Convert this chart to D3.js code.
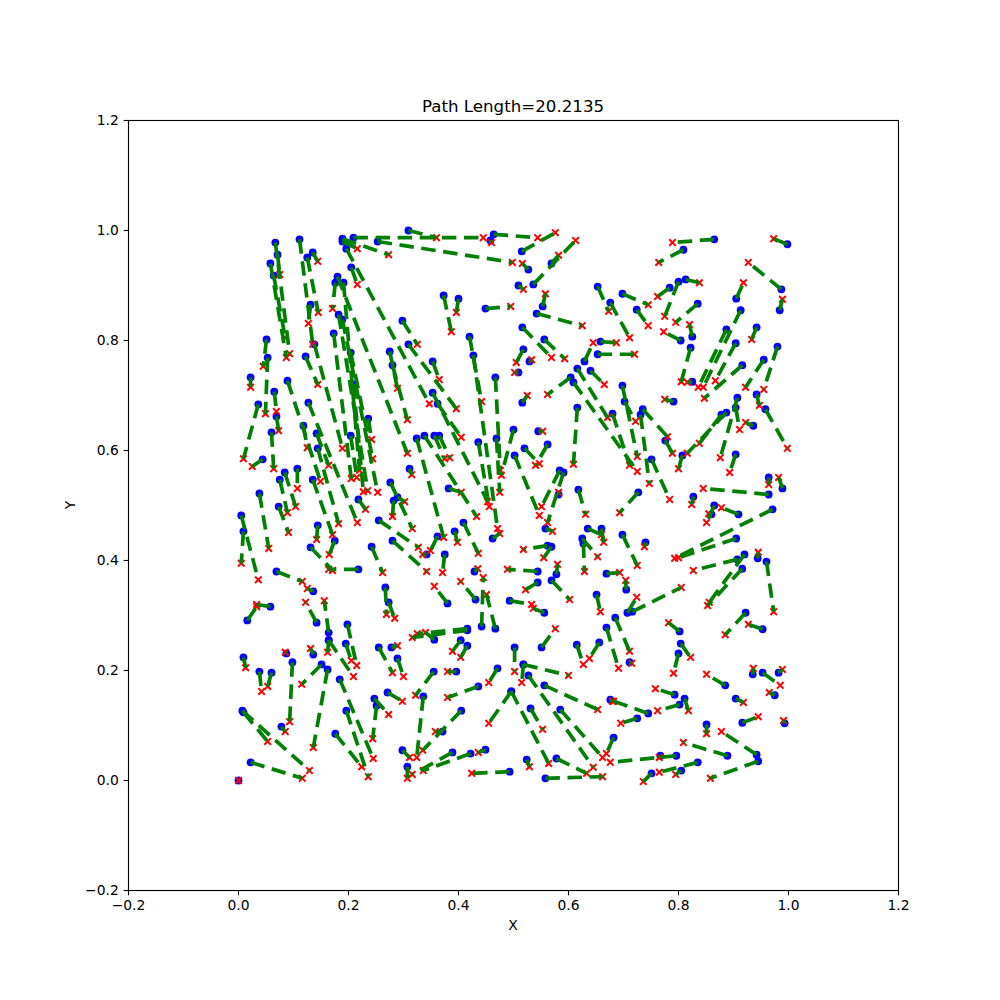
<!DOCTYPE html>
<html>
<head>
<meta charset="utf-8">
<style>
html,body{margin:0;padding:0;background:#fff}
svg{display:block}
text{font-family:"DejaVu Sans",sans-serif;fill:#000}
</style>
<script src="https://cdnjs.cloudflare.com/ajax/libs/d3/7.9.0/d3.min.js"></script>
</head>
<body>
<svg id="c" width="1000" height="1000"></svg>
<script>
const titleText = "Path Length=20.2135";
const xLabel = "X";
const yLabel = "Y";
const tickValues = [-0.2,0,0.2,0.4,0.6,0.8,1.0,1.2];

const blueStarts = [
[.067,.978],[.071,.956],[.058,.940],[.064,.918],[.111,.984],[.125,.951],[.135,.960],[.131,.865],[.138,.793],[.089,.727],
[.127,.687],[.142,.631],[.144,.604],[.135,.547],[.122,.771],[.051,.802],[.053,.769],[.022,.733],[.036,.684],[.065,.707],
[.069,.662],[.060,.633],[.044,.584],[.084,.560],[.075,.547],[.107,.567],[.038,.522],[.073,.498],[.005,.482],[.009,.453],
[.118,.645],[.173,.813],[.182,.847],[.189,.838],[.204,.778],[.209,.720],[.204,.627],[.191,.905],[.180,.916],[.176,.905],
[.205,.933],[.196,.967],[.189,.985],[.189,.980],[.209,.987],[.309,1.000],[.253,.980],[.298,.836],[.309,.793],[.275,.780],
[.280,.755],[.236,.658],[.218,.511],[.353,.762],[.464,.993],[.458,.982],[.515,.962],[.527,.929],[.536,.902],[.569,.940],
[.509,.900],[.653,.898],[.676,.869],[.373,.882],[.400,.876],[.449,.858],[.553,.862],[.542,.849],[.420,.807],[.427,.773],
[.467,.733],[.516,.824],[.556,.802],[.518,.784],[.529,.762],[.509,.742],[.516,.687],[.604,.733],[.609,.724],[.616,.749],
[.640,.745],[.629,.762],[.658,.798],[.653,.775],[.616,.678],
[.865,.984],[.809,.965],[.998,.975],[.987,.893],[.698,.885],[.784,.896],[.800,.907],[.813,.911],[.835,.867],[.724,.856],
[.825,.807],[.804,.800],[.905,.876],[.913,.855],[.887,.820],[.984,.855],[.942,.824],[.904,.795],[.980,.789],[.955,.765],
[.916,.755],[.822,.787],[.825,.725],[.698,.718],[.702,.689],[.791,.689],[.942,.702],[.958,.675],[.907,.696],[.904,.678],
[.887,.669],[.878,.665],[.735,.675],[.731,.665],[.680,.667],
[.807,.591],[.776,.618],[.751,.584],[.727,.524],[.827,.516],[.865,.500],[.860,.484],[.909,.484],[.964,.520],[.964,.551],
[.989,.531],[.904,.593],[.971,.493],[.905,.440],[.907,.402],[.920,.411],[.916,.385],[.716,.307],[.707,.305],[.705,.347],
[.669,.376],[.960,.398],[.944,.404],[.936,.645],[.740,.433],[.698,.447],
[.338,.627],[.356,.627],[.365,.627],[.382,.531],[.324,.622],[.353,.705],[.362,.685],[.436,.615],[.469,.622],[.500,.638],
[.462,.440],[.520,.604],[.502,.591],[.562,.611],[.545,.635],[.584,.564],[.591,.560],[.582,.520],[.618,.529],[.635,.458],
[.660,.458],[.625,.440],[.627,.431],[.558,.458],[.562,.427],[.569,.425],[.544,.380],[.578,.375],[.544,.360],[.569,.364],
[.651,.338],[.493,.327],[.409,.469],[.393,.453],[.362,.444],[.342,.411],[.375,.411],[.280,.436],[.429,.380],[.431,.329],
[.380,.322],[.442,.280],[.467,.276],[.556,.305],
[.276,.542],[.289,.515],[.282,.509],[.311,.567],[.255,.473],[.242,.425],[.218,.384],[.131,.424],[.175,.436],[.144,.464],
[.069,.380],[.136,.344],[.267,.351],[.273,.324],[.058,.316],[.016,.291],
[.142,.287],[.164,.269],[.198,.284],[.164,.255],[.164,.255],[.195,.249],[.255,.242],[.278,.242],[.289,.222],[.009,.224],
[.038,.198],[.060,.196],[.087,.231],[.098,.215],[.136,.229],[.151,.211],[.162,.202],[.184,.184],[.196,.127],[.176,.085],
[.247,.149],[.251,.136],[.271,.160],[.078,.098],[.007,.127],[.009,.124],[.022,.033],[0,0],[.355,.198],[.298,.055],
[.307,.025],[.336,.153],
[.416,.276],[.416,.273],[.356,.256],[.404,.255],[.416,.245],[.502,.242],[.518,.211],[.518,.211],[.527,.191],[.556,.173],
[.551,.242],[.471,.204],[.436,.171],[.396,.198],[.405,.127],[.371,.089],[.496,.162],[.496,.162],[.531,.131],[.585,.129],
[.578,.040],[.558,.004],[.524,.038],[.493,.016],[.449,.056],[.422,.049],[.389,.051],[.615,.247],[.656,.251],[.669,.278],
[.685,.296],[.711,.215],[.802,.271],[.804,.249],[.800,.231],[.922,.305],[.953,.275],[.885,.173],[.935,.193],[.953,.196],
[.982,.196],[.975,.155],[.904,.149],[.916,.105],[.993,.104],[.851,.102],[.793,.156],[.811,.149],[.802,.138],[.745,.122],
[.725,.113],[.676,.147],[.942,.047],[.889,.045],[.945,.035],[.796,.045],[.767,.045],[.835,.033],[.805,.018],[.751,.013],
[.682,.078]
];

const redEnds = [
[.093,.776],[.075,.920],[.087,.769],[.085,.805],[.135,.793],[.145,.851],[.144,.944],[.127,.831],[.189,.604],[.149,.544],
[.216,.469],[.164,.573],[.182,.467],[.171,.447],[.144,.720],[.045,.753],[.049,.667],[.022,.715],[.009,.585],[.069,.671],
[.073,.636],[.064,.567],[.025,.571],[.104,.498],[.089,.487],[.107,.531],[.055,.422],[.091,.451],[.036,.365],[.005,.395],
[.125,.605],[.205,.549],[.235,.527],[.253,.524],[.244,.585],[.227,.525],[.215,.551],[.220,.564],[.307,.595],[.171,.858],
[.216,.902],[.347,.685],[.273,.956],[.216,.967],[.445,.987],[.360,.987],[.498,.942],[.325,.793],[.396,.676],[.289,.713],
[.307,.656],[.242,.620],[.231,.493],[.365,.729],[.544,.987],[.460,.978],[.576,.996],[.516,.940],[.613,.982],[.582,.955],
[.518,.893],[.673,.853],[.711,.805],[.387,.816],[.396,.851],[.495,.862],[.558,.885],[.625,.827],[.442,.689],[.471,.458],
[.476,.564],[.569,.769],[.593,.767],[.505,.760],[.533,.765],[.502,.742],[.525,.700],[.562,.702],[.725,.562],[.671,.660],
[.665,.720],[.645,.796],[.687,.796],[.720,.775],[.609,.575],
[.789,.978],[.764,.942],[.973,.985],[.927,.942],[.745,.865],[.762,.880],[.775,.844],[.838,.905],[.795,.833],[.745,.827],
[.820,.829],[.773,.816],[.918,.905],[.845,.715],[.836,.715],[.989,.875],[.933,.802],[.867,.727],[.955,.711],[.922,.715],
[.847,.695],[.805,.725],[.816,.724],[.725,.589],[.722,.653],[.775,.693],[.947,.682],[.998,.604],[.876,.587],[.911,.638],
[.816,.595],[.838,.613],[.780,.625],[.747,.540],[.711,.573],
[.800,.567],[.789,.595],[.784,.511],[.693,.487],[.824,.502],[.851,.469],[.855,.485],[.878,.496],[.845,.531],[.964,.538],
[.982,.551],[.893,.560],[.793,.404],[.800,.405],[.827,.382],[.856,.324],[.853,.318],[.805,.351],[.724,.333],[.704,.364],
[.693,.378],[.973,.307],[.945,.415],[.922,.651],[.738,.425],[.725,.391],
[.433,.480],[.375,.585],[.384,.587],[.405,.524],[.373,.442],[.453,.507],[.405,.624],[.456,.498],[.475,.524],[.478,.555],
[.475,.449],[.547,.576],[.547,.482],[.540,.573],[.553,.635],[.551,.498],[.562,.469],[.582,.524],[.631,.484],[.660,.447],
[.664,.433],[.653,.407],[.629,.380],[.571,.453],[.518,.420],[.555,.405],[.489,.384],[.580,.393],[.522,.347],[.602,.329],
[.658,.307],[.533,.320],[.436,.413],[.398,.433],[.349,.418],[.335,.411],[.371,.378],[.342,.380],[.435,.385],[.404,.362],
[.356,.353],[.445,.369],[.451,.338],[.536,.313],
[.316,.458],[.302,.507],[.280,.480],[.315,.556],[.327,.424],[.262,.378],[.164,.384],[.171,.382],[.165,.411],[.142,.438],
[.116,.362],[.125,.349],[.269,.302],[.284,.295],[.033,.320],[.033,.316],
[.122,.324],[.156,.327],[.215,.209],[.162,.233],[.209,.189],[.205,.218],[.280,.196],[.289,.245],[.300,.189],[.013,.205],
[.042,.162],[.053,.171],[.085,.233],[.093,.107],[.131,.240],[.115,.175],[.136,.060],[.245,.040],[.236,.007],[.224,.025],
[.273,.120],[.244,.076],[.298,.144],[.085,.089],[.129,.018],[.053,.071],[.116,.004],[0,0],[.322,.155],[.311,.042],
[.307,.004],[.324,.042],
[.325,.267],[.316,.260],[.340,.269],[.389,.235],[.404,.224],[.502,.198],[.600,.191],[.515,.178],[.645,.024],[.653,.129],
[.576,.276],[.455,.178],[.380,.151],[.380,.198],[.335,.055],[.358,.089],[.455,.104],[.564,.031],[.553,.093],[.662,.042],
[.633,.013],[.662,.007],[.529,.025],[.424,.013],[.436,.051],[.336,.018],[.316,.011],[.627,.211],[.638,.222],[.691,.204],
[.711,.235],[.715,.213],[.782,.287],[.822,.224],[.791,.195],[.885,.265],[.927,.284],[.851,.193],[.936,.204],[.985,.173],
[.989,.202],[.965,.160],[.918,.142],[.945,.116],[.991,.109],[.851,.085],[.758,.167],[.818,.127],[.762,.127],[.682,.144],
[.695,.104],[.680,.144],[.878,.089],[.809,.069],[.858,.004],[.676,.033],[.765,.042],[.765,.015],[.795,.011],[.736,-.002],
[.669,.049]
];

const svg = d3.select("#c");
const x = d3.scaleLinear().domain([-0.2,1.2]).range([128.5,898.5]);
const y = d3.scaleLinear().domain([-0.2,1.2]).range([890.5,120.5]);
const fmt = d3.format(".1f");
const tf = d => fmt(d).replace("-", "\u2212");

svg.append("g").selectAll("circle").data(blueStarts).join("circle")
  .attr("cx", d => x(d[0])).attr("cy", d => y(d[1])).attr("r", 3.9).attr("fill", "#0000ff");

const xm = d3.symbol().type(d3.symbolX).size(30);
svg.append("g").selectAll("path").data(redEnds).join("path")
  .attr("d", xm)
  .attr("transform", d => `translate(${x(d[0])},${y(d[1])})`)
  .attr("fill", "none").attr("stroke", "#ff0000").attr("stroke-width", 2);

svg.append("g").selectAll("line").data(blueStarts).join("line")
  .attr("x1", d => x(d[0])).attr("y1", d => y(d[1]))
  .attr("x2", (d,i) => x(redEnds[i][0])).attr("y2", (d,i) => y(redEnds[i][1]))
  .attr("stroke", "#008000").attr("stroke-width", 3.7)
  .attr("stroke-dasharray", "14.5 7.6");

svg.append("rect").attr("x",128.5).attr("y",120.5).attr("width",770).attr("height",770)
  .attr("fill","none").attr("stroke","#000").attr("stroke-width",1.11);

const axB = d3.axisBottom(x).tickValues(tickValues).tickFormat(tf).tickSize(4.86).tickPadding(4.86).offset(0);
const axL = d3.axisLeft(y).tickValues(tickValues).tickFormat(tf).tickSize(4.86).tickPadding(4.86).offset(0);
const gx = svg.append("g").attr("transform","translate(0,890.5)").call(axB);
const gy = svg.append("g").attr("transform","translate(128.5,0)").call(axL);
[gx,gy].forEach(g=>{
  g.select(".domain").remove();
  g.selectAll("line").attr("stroke","#000").attr("stroke-width",1.11);
  g.selectAll("text").attr("font-size","13.89px").attr("font-family",'"DejaVu Sans"').attr("fill","#000");
});

svg.append("text").attr("x",513).attr("y",112).attr("text-anchor","middle").attr("font-size","16.67px").text(titleText);
svg.append("text").attr("x",513).attr("y",930).attr("text-anchor","middle").attr("font-size","13.89px").text(xLabel);
svg.append("text").attr("transform","translate(75,505) rotate(-90)").attr("text-anchor","middle").attr("font-size","13.89px").text(yLabel);
</script>
</body>
</html>
